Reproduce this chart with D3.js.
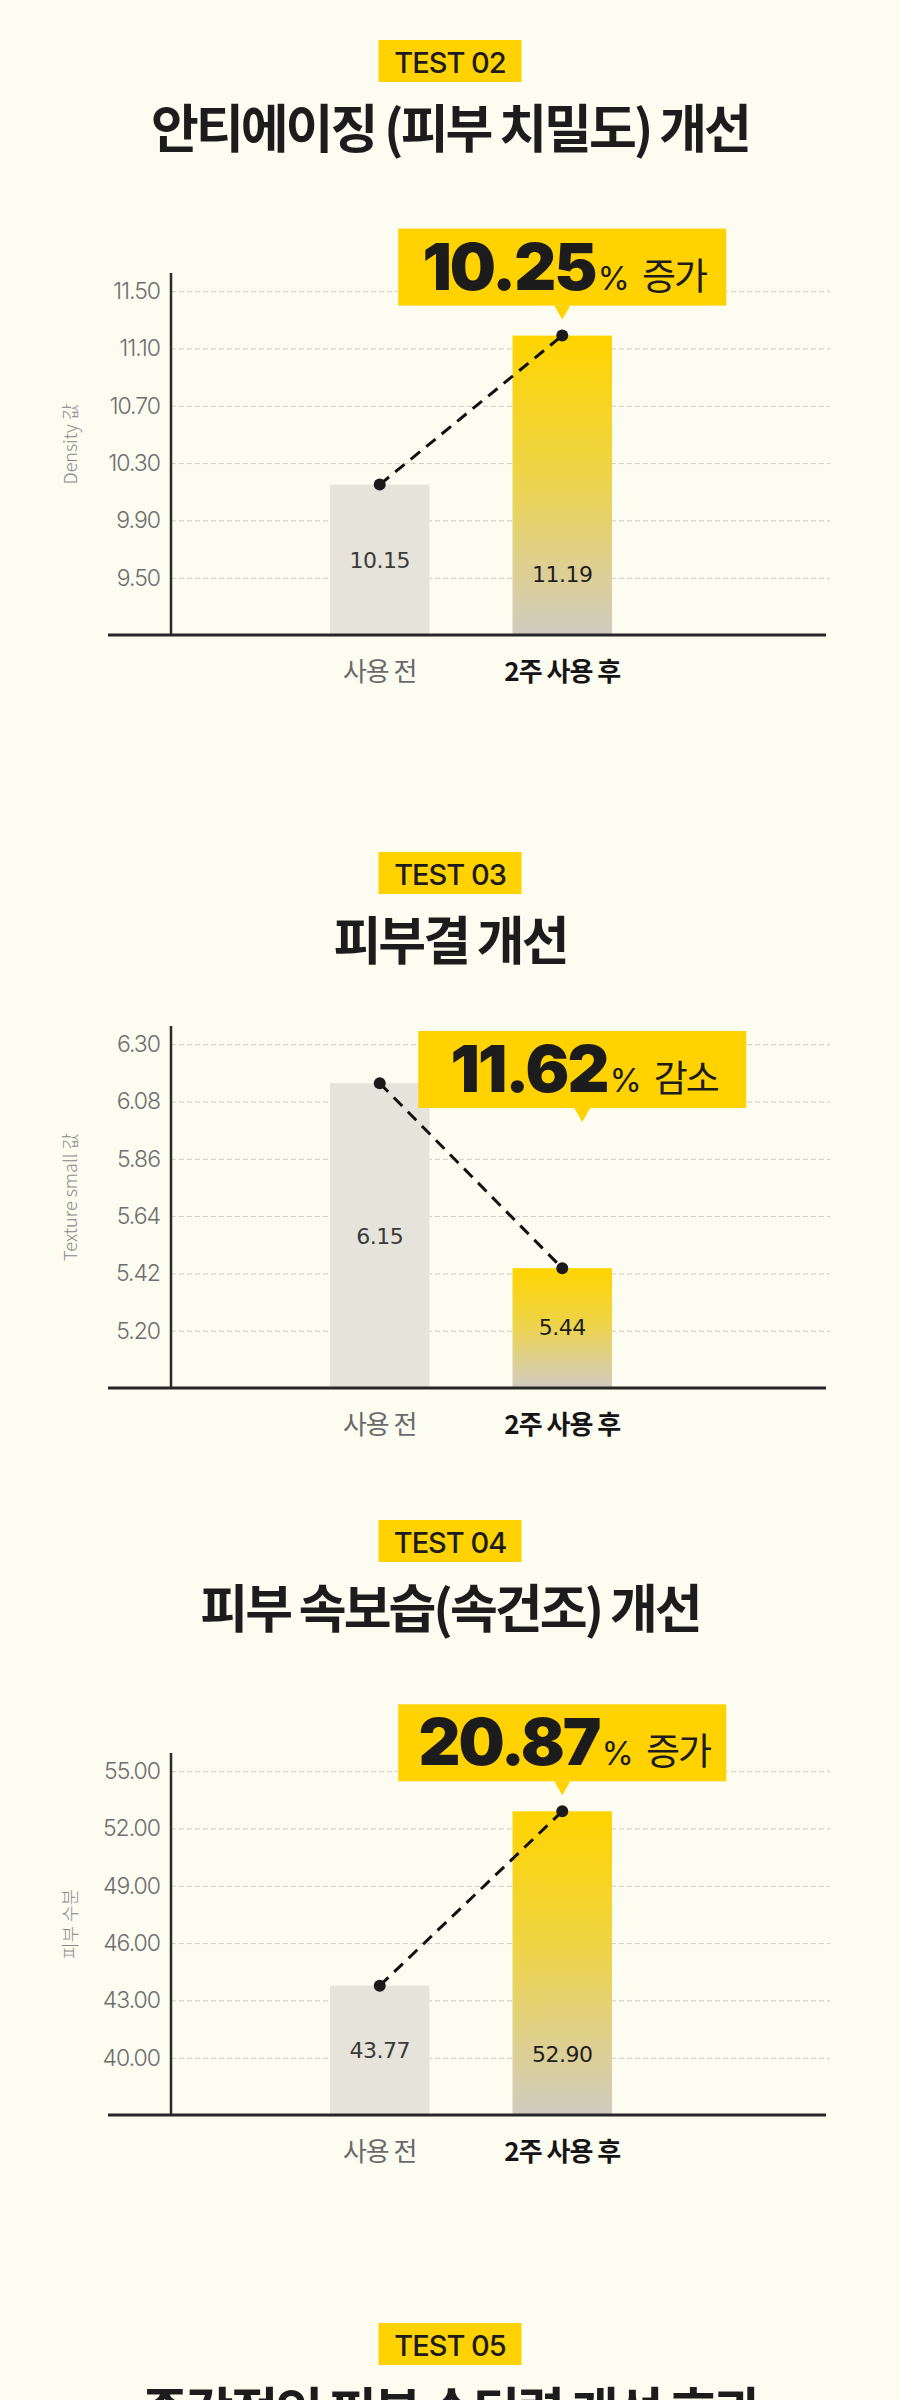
<!DOCTYPE html>
<html>
<head>
<meta charset="utf-8">
<script src="https://cdn.jsdelivr.net/npm/d3@7"></script>
<style>
body { margin: 0; background: #FDFCF1; }
svg { display: block; }
text { font-family: "Noto Sans CJK KR", sans-serif; }
</style>
</head>
<body>
<div id="chart"></div>
<script>
// data
var categories = ["사용 전", "2주 사용 후"];
var testLabels = ["TEST 02", "TEST 03", "TEST 04", "TEST 05"];
var titles = ["안티에이징 (피부 치밀도) 개선", "피부결 개선", "피부 속보습(속건조) 개선", "즉각적인 피부 수딩력 개선 효과"];
var yTitles = ["Density 값", "Texture small 값", "피부 수분"];
var values02 = [10.15, 11.19];
var values03 = [6.15, 5.44];
var values04 = [43.77, 52.90];
var ticks02 = [9.50, 9.90, 10.30, 10.70, 11.10, 11.50];
var ticks03 = [5.20, 5.42, 5.64, 5.86, 6.08, 6.30];
var ticks04 = [40, 43, 46, 49, 52, 55];
var changePct = ["10.25", "11.62", "20.87"];
var changeWord = ["증가", "감소", "증가"];

var W = 900, H = 2400;
var YELLOW = "#FFD200", INK = "#1c1c1c";
var sectionTops = [40, 852, 1520, 2323];

var svg = d3.select("#chart").append("svg").attr("width", W).attr("height", H);
svg.append("rect").attr("width", W).attr("height", H).attr("fill", "#FDFCF1");

var grad = svg.append("defs").append("linearGradient")
    .attr("id", "afterGrad").attr("x1", 0).attr("y1", 0).attr("x2", 0).attr("y2", 1);
[[0, "#FFD400"], [0.45, "#EED445"], [0.75, "#DFD08C"], [1, "#CFCBBF"]].forEach(function (s) {
    grad.append("stop").attr("offset", s[0]).attr("stop-color", s[1]);
});

function drawHeader(top, label, title) {
    svg.append("rect").attr("x", 378.5).attr("y", top).attr("width", 143).attr("height", 42).attr("fill", YELLOW);
    svg.append("text").attr("x", 450).attr("y", top + 33).attr("text-anchor", "middle")
        .style("font-family", "Inter, sans-serif").style("font-weight", 500).style("font-size", "29px")
        .style("letter-spacing", "-1px").attr("fill", INK).text(label);
    svg.append("text").attr("x", 450).attr("y", top + 108).attr("text-anchor", "middle")
        .style("font-weight", 700).style("font-size", "52px").style("letter-spacing", "-3px")
        .attr("fill", INK).text(title);
}

function drawChart(c) {
    var up = c.values[1] > c.values[0];
    var plotTop = c.top + (up ? 233 : 174), base = plotTop + 362;
    var step = c.ticks[1] - c.ticks[0];

    var y = d3.scaleLinear()
        .domain([c.ticks[0] - step, c.ticks[c.ticks.length - 1]])
        .range([base, base - 343.8]);
    var x = d3.scaleBand().domain(categories).range([330, 612]).paddingInner(0.455);
    var cx = function (i) { return x(categories[i]) + x.bandwidth() / 2; };

    var g = svg.append("g");

    // grid + tick labels
    g.append("g").attr("transform", "translate(171,0)")
        .call(d3.axisLeft(y).tickValues(c.ticks).tickSize(-659).tickPadding(11).tickFormat(d3.format(".2f")))
        .call(function (a) {
            a.select(".domain").remove();
            a.selectAll(".tick line").attr("stroke", "#cfcdc3").attr("stroke-dasharray", "5,3");
            a.selectAll(".tick text").attr("fill", "#6e6e6e")
                .style("font-family", "Inter, sans-serif").style("font-weight", 300)
                .style("font-size", "23px").style("letter-spacing", "-1px");
        });

    // y title
    g.append("text").attr("transform", "translate(77," + ((plotTop + base) / 2 - 10) + ") rotate(-90)")
        .attr("text-anchor", "middle").attr("fill", "#888888")
        .style("font-size", "18px").style("font-weight", 300).text(c.yTitle);

    // bars
    g.selectAll("rect.bar").data(c.values).join("rect").attr("class", "bar")
        .attr("x", function (d, i) { return x(categories[i]); })
        .attr("y", function (d) { return y(d); })
        .attr("width", x.bandwidth())
        .attr("height", function (d) { return base - y(d); })
        .attr("fill", function (d, i) { return i ? "url(#afterGrad)" : "#E6E4DA"; });

    // axis lines
    g.append("line").attr("x1", 171).attr("x2", 171).attr("y1", plotTop).attr("y2", base)
        .attr("stroke", "#2a2a2a").attr("stroke-width", 2.5);
    g.append("line").attr("x1", 108).attr("x2", 826).attr("y1", base).attr("y2", base)
        .attr("stroke", "#262626").attr("stroke-width", 3);

    // value labels
    g.selectAll("text.val").data(c.values).join("text").attr("class", "val")
        .attr("x", function (d, i) { return cx(i); })
        .attr("y", function (d, i) { return i ? base - 61 : (y(d) + base) / 2; })
        .attr("dy", "0.36em").attr("text-anchor", "middle")
        .attr("fill", function (d, i) { return i ? "#1e1e1e" : "#3a3a3a"; })
        .style("font-family", "'DejaVu Sans', sans-serif").style("font-size", "22px")
        .style("letter-spacing", "-0.5px")
        .text(function (d) { return d3.format(".2f")(d); });

    // dashed connector + dots
    var line = d3.line().x(function (d, i) { return cx(i); }).y(function (d) { return y(d); });
    g.append("path").datum(c.values).attr("d", line).attr("fill", "none")
        .attr("stroke", "#111").attr("stroke-width", 3).attr("stroke-dasharray", "12,8");
    g.selectAll("circle.dot").data(c.values).join("circle").attr("class", "dot")
        .attr("cx", function (d, i) { return cx(i); }).attr("cy", function (d) { return y(d); })
        .attr("r", 6).attr("fill", "#1a1a1a");

    // callout
    var bx = up ? cx(1) : cx(1) + 20;
    var bBottom = up ? y(c.values[1]) - 30 : plotTop + 82;
    var co = g.append("g");
    co.append("rect").attr("x", bx - 164).attr("y", bBottom - 77).attr("width", 328).attr("height", 77).attr("fill", YELLOW);
    co.append("path").attr("d", "M" + (bx - 8) + "," + bBottom + "L" + (bx + 8) + "," + bBottom + "L" + bx + "," + (bBottom + 14) + "Z")
        .attr("fill", YELLOW);
    var t = co.append("text").attr("x", bx + 2).attr("y", bBottom - 16).attr("text-anchor", "middle").attr("fill", INK);
    t.append("tspan").text(c.pct)
        .style("font-family", "Inter, sans-serif").style("font-weight", 900)
        .style("font-size", "65px").style("letter-spacing", "-2px");
    t.append("tspan").attr("dx", 2).text("%")
        .style("font-family", "Inter, sans-serif").style("font-weight", 400).style("font-size", "33px");
    t.append("tspan").attr("dx", 12).text(c.word)
        .style("font-weight", 400).style("font-size", "37px").style("letter-spacing", "-2px");

    // x labels
    g.selectAll("text.cat").data(categories).join("text").attr("class", "cat")
        .attr("x", function (d, i) { return cx(i); }).attr("y", base + 46)
        .attr("text-anchor", "middle")
        .attr("fill", function (d, i) { return i ? "#151515" : "#6a6a6a"; })
        .style("font-weight", function (d, i) { return i ? 700 : 400; })
        .style("font-size", "26px").style("letter-spacing", "-1px")
        .text(function (d) { return d; });
}

var charts = [
    { values: values02, ticks: ticks02 },
    { values: values03, ticks: ticks03 },
    { values: values04, ticks: ticks04 }
];

sectionTops.forEach(function (top, i) {
    drawHeader(top, testLabels[i], titles[i]);
    if (charts[i]) {
        var c = charts[i];
        c.top = top;
        c.yTitle = yTitles[i];
        c.pct = changePct[i];
        c.word = changeWord[i];
        drawChart(c);
    }
});
</script>
</body>
</html>
